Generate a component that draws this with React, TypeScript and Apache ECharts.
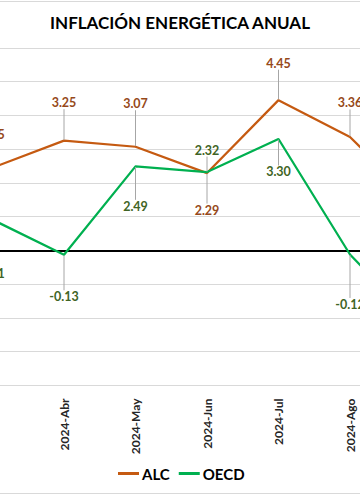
import React, { useEffect, useRef } from "react";
import * as echarts from "echarts";

const categories = ["2024-Mar", "2024-Abr", "2024-May", "2024-Jun", "2024-Jul", "2024-Ago", "2024-Sep"];
const alcValues = [2.45, 3.25, 3.07, 2.29, 4.45, 3.36, 1.26];
const oecdValues = [0.91, -0.13, 2.49, 2.32, 3.3, -0.12, -2.3];
const seriesNames = ["ALC", "OECD"];
const titleText = "INFLACIÓN ENERGÉTICA ANUAL";

// label vertical offsets (px) relative to the point, mimicking the manually placed callouts
const alcLabelDy = [-33, -38, -43, 37, -37, -34, -35];
const oecdLabelDy = [54, 42, 40, -22, 33, 50, 40];

const FONT = "Lato, 'Open Sans', sans-serif";

export default function App() {
  const ref = useRef<HTMLDivElement>(null);
  useEffect(() => {
    if (!ref.current) return;
    const chart = echarts.init(ref.current, null, { renderer: "svg" });
    const offs = [alcLabelDy, oecdLabelDy];
    const mkLabel = (color: string) => ({
      show: true,
      position: "inside",
      color,
      fontFamily: FONT,
      fontWeight: "bold",
      fontSize: 12.5,
      padding: [5, 2],
      formatter: (p: any) => Number(p.value).toFixed(2),
    });
    chart.setOption({
      animation: false,
      graphic: [
        {
          type: "text",
          x: 240,
          y: 22,
          style: {
            text: titleText,
            textAlign: "center",
            textVerticalAlign: "middle",
            fontFamily: FONT,
            fontWeight: "bold",
            fontSize: 17,
            fill: "#000",
          },
        },
        {
          type: "line",
          shape: { x1: 0, y1: 1.5, x2: 520, y2: 1.5 },
          style: { stroke: "#D9D9D9", lineWidth: 1 },
        },
        {
          type: "line",
          shape: { x1: 0, y1: 493.5, x2: 520, y2: 493.5 },
          style: { stroke: "#D9D9D9", lineWidth: 1 },
        },
      ],
      legend: {
        left: 178,
        top: 466,
        padding: 0,
        icon: "rect",
        itemWidth: 21,
        itemHeight: 3,
        itemGap: 9,
        textStyle: { fontFamily: FONT, fontWeight: "bold", fontSize: 15, color: "#000", padding: [0, 0, 0, -2] },
        data: seriesNames,
      },
      grid: { left: 16.75, right: 2.75, top: 47.8, bottom: 109.5 },
      xAxis: {
        type: "category",
        data: categories,
        boundaryGap: true,
        axisLine: { show: false },
        axisTick: { show: false },
        axisLabel: {
          rotate: 90,
          interval: 0,
          margin: 13,
          showMinLabel: false,
          showMaxLabel: false,
          fontFamily: FONT,
          fontWeight: "bold",
          fontSize: 12,
          color: "#262626",
          formatter: (v: string, i: number) => (i === 0 || i === categories.length - 1 ? "" : v),
        },
      },
      yAxis: {
        type: "value",
        min: -4,
        max: 6,
        interval: 1,
        axisLabel: { show: false },
        axisLine: { show: false },
        axisTick: { show: false },
        splitLine: { lineStyle: { color: "#D9D9D9", width: 1 } },
      },
      labelLayout: (p: any) => ({ dy: offs[p.seriesIndex][p.dataIndex] }),
      series: [
        {
          name: seriesNames[0],
          type: "line",
          data: alcValues,
          symbol: "circle",
          symbolSize: 1,
          z: 3,
          itemStyle: { color: "#C55A11" },
          lineStyle: { color: "#C55A11", width: 2.25 },
          label: mkLabel("#96491A"),
          labelLine: { show: true, lineStyle: { color: "#A6A6A6", width: 1 } },
          markLine: {
            silent: true,
            symbol: "none",
            label: { show: false },
            lineStyle: { color: "#000", width: 2, type: "solid" },
            data: [{ yAxis: 0 }],
            z: 1,
          },
        },
        {
          name: seriesNames[1],
          type: "line",
          data: oecdValues,
          symbol: "circle",
          symbolSize: 1,
          z: 4,
          itemStyle: { color: "#00B050" },
          lineStyle: { color: "#00B050", width: 2.25 },
          label: mkLabel("#3F6425"),
          labelLine: { show: true, lineStyle: { color: "#A6A6A6", width: 1 } },
        },
      ],
    });
    return () => chart.dispose();
  }, []);
  return (
    <div style={{ position: "fixed", left: 0, top: 0, width: 360, height: 495, overflow: "hidden", background: "#fff" }}>
      <div ref={ref} style={{ position: "absolute", left: -60, top: 0, width: 520, height: 495 }} />
    </div>
  );
}
